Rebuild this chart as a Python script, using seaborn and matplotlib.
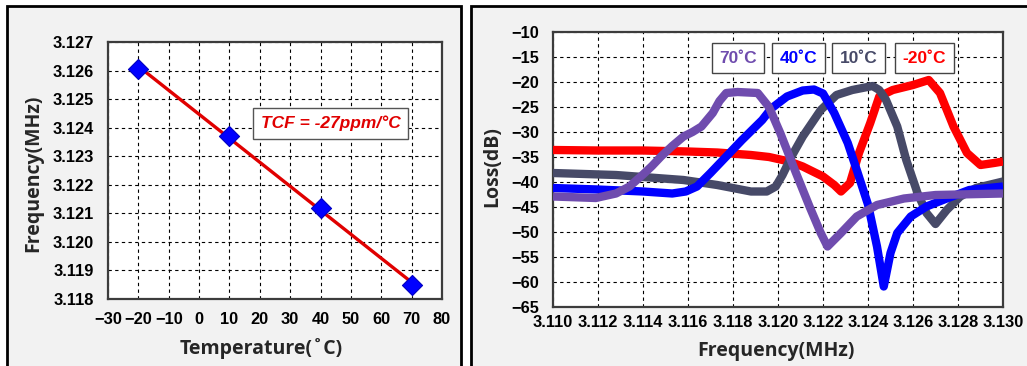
import numpy as np
import pandas as pd
import matplotlib
matplotlib.use("Agg")
import matplotlib.pyplot as plt
import matplotlib.patches as mpatches
from matplotlib.ticker import FormatStrFormatter
import seaborn as sns

# ---------------- data ----------------
temps = [-20, 10, 40, 70]
res_freq = [3.12607, 3.12370, 3.12120, 3.11850]
tcf_label = "TCF = -27ppm/\u00b0C"

freq_r = [3.110, 3.112, 3.114, 3.116, 3.1173, 3.1188, 3.1196, 3.1205, 3.1211, 3.1220, 3.1225,
          3.1228, 3.1232, 3.1236, 3.1241, 3.1245, 3.1251, 3.1260, 3.1267, 3.1272, 3.1278,
          3.1284, 3.1290, 3.1296, 3.1300]
loss_r = [-33.6, -33.7, -33.7, -33.9, -34.1, -34.6, -35.0, -35.9, -36.9, -38.9, -40.6,
          -41.9, -40.2, -34.2, -28.2, -22.9, -21.6, -20.6, -19.6, -22.2, -28.9,
          -34.2, -36.6, -36.2, -35.9]

freq_b = [3.110, 3.112, 3.114, 3.1153, 3.1159, 3.1164, 3.1170, 3.1177, 3.1184, 3.1193, 3.1197,
          3.1204, 3.1211, 3.1216, 3.1220, 3.1225, 3.1231, 3.1235, 3.1240, 3.1244, 3.1247,
          3.1250, 3.1253, 3.1259, 3.1266, 3.1275, 3.1285, 3.1300]
loss_b = [-41.2, -41.5, -41.9, -42.3, -41.9, -40.9, -38.2, -34.9, -31.6, -27.6, -25.3,
          -22.9, -21.7, -21.5, -22.3, -26.2, -32.2, -37.6, -44.5, -52.9, -60.9,
          -54.2, -50.2, -46.9, -44.9, -43.3, -41.6, -40.9]

freq_g = [3.110, 3.1128, 3.1158, 3.1173, 3.1188, 3.1195, 3.1199, 3.1202, 3.1206, 3.1211,
          3.1219, 3.1226, 3.1233, 3.1242, 3.1245, 3.1248, 3.1253, 3.1257, 3.1262, 3.1266,
          3.1270, 3.1275, 3.1281, 3.1288, 3.1300]
loss_g = [-38.2, -38.6, -39.6, -40.6, -41.9, -41.9, -40.9, -38.6, -34.9, -30.9,
          -25.6, -22.6, -21.6, -20.8, -21.6, -23.6, -28.9, -35.6, -42.2, -46.2,
          -48.4, -45.6, -42.9, -41.2, -39.9]

freq_p = [3.110, 3.1119, 3.1128, 3.1134, 3.1140, 3.1144, 3.1148, 3.1153, 3.1158, 3.1162,
          3.1166, 3.1171, 3.1174, 3.1177, 3.1182, 3.1191, 3.1196, 3.1201, 3.1208, 3.1214,
          3.1219, 3.1222, 3.1228, 3.1235, 3.1244, 3.1256, 3.1270, 3.1300]
loss_p = [-42.9, -43.2, -42.3, -40.9, -38.5, -36.8, -34.9, -32.8, -30.9, -30.0,
          -28.9, -26.2, -23.8, -22.2, -22.0, -22.2, -25.0, -30.2, -38.2, -44.9,
          -50.2, -52.9, -50.2, -46.9, -44.6, -43.3, -42.6, -42.3]

series_labels = ["70\u02daC", "40\u02daC", "10\u02daC", "-20\u02daC"]
series_colors = ["#6f4cae", "#0000ff", "#474a68", "#ff0000"]
legend_x = [3.11822, 3.12091, 3.12358, 3.12651]

x_ticks_left = list(range(-30, 81, 10))
y_ticks_left = [3.118, 3.119, 3.120, 3.121, 3.122, 3.123, 3.124, 3.125, 3.126, 3.127]
x_ticks_right = [3.110, 3.112, 3.114, 3.116, 3.118, 3.120, 3.122, 3.124, 3.126, 3.128, 3.130]
y_ticks_right = list(range(-65, -9, 5))

# ---------------- style ----------------
sns.set_style("white")
plt.rcParams['font.family'] = ['Liberation Sans', 'DejaVu Sans']
label_font = dict(family=['Open Sans', 'DejaVu Sans'], weight='bold', size=14)
TICK_FS = 11.8

W, H = 1027, 366
fig = plt.figure(figsize=(W / 100, H / 100), dpi=100)
fig.patch.set_facecolor("white")

def fx(px):
    return px / W

def fy(py):
    return 1 - py / H

# panel frames (behind the axes)
fig.patches.append(mpatches.Rectangle((fx(7), fy(372)), fx(461 - 7), (372 - 6) / H,
                                      transform=fig.transFigure, facecolor="#f2f2f2",
                                      edgecolor="black", linewidth=2, zorder=-5))
fig.patches.append(mpatches.Rectangle((fx(471), fy(372)), fx(1040 - 471), (372 - 6) / H,
                                      transform=fig.transFigure, facecolor="#f2f2f2",
                                      edgecolor="black", linewidth=2, zorder=-5))

def style_axes(ax):
    ax.set_facecolor("white")
    for s in ax.spines.values():
        s.set_visible(True)
        s.set_color("#3c3c3c")
        s.set_linewidth(1.6)
    ax.grid(True, color="black", linestyle=(0, (3, 3)), linewidth=0.8)
    ax.set_axisbelow(True)
    for lab in ax.get_xticklabels() + ax.get_yticklabels():
        lab.set_fontweight("bold")
        lab.set_fontsize(TICK_FS)

# ---------------- left panel ----------------
ax1 = fig.add_axes([fx(108), fy(299), fx(442 - 108), (299 - 42) / H])
coef = np.polyfit(temps, res_freq, 1)
fit_df = pd.DataFrame({"T": [temps[0], temps[-1]],
                       "F": np.polyval(coef, [temps[0], temps[-1]])})
pts_df = pd.DataFrame({"T": temps, "F": res_freq})
sns.lineplot(data=fit_df, x="T", y="F", ax=ax1, color="#e00000", linewidth=2.4, zorder=3)
sns.scatterplot(data=pts_df, x="T", y="F", ax=ax1, marker="D", s=105, color="#0000ff",
                edgecolor="#0000c0", linewidth=0.8, zorder=4)
ax1.set_xlim(-30, 80)
ax1.set_ylim(3.118, 3.127)
ax1.set_xticks(x_ticks_left)
ax1.set_yticks(y_ticks_left)
ax1.yaxis.set_major_formatter(FormatStrFormatter("%.3f"))
ax1.tick_params(axis="both", length=0, labelsize=TICK_FS, colors="black")
ax1.tick_params(axis="y", pad=10)
ax1.tick_params(axis="x", pad=9)
style_axes(ax1)
ax1.set_xlabel("Temperature(\u02daC)", **label_font)
ax1.set_ylabel("Frequency(MHz)", **label_font)
ax1.xaxis.set_label_coords(0.458, -0.15)
ax1.yaxis.set_label_coords(-0.195, 0.49)
ax1.text(43.3, 3.12416, tcf_label, color="#e00000", fontsize=12.5, fontweight="bold",
         fontstyle="italic", ha="center", va="center", zorder=5,
         bbox=dict(boxstyle="square,pad=0.45", facecolor="white", edgecolor="#555555",
                   linewidth=1.0))

# ---------------- right panel ----------------
ax2 = fig.add_axes([fx(553), fy(307), fx(1003 - 553), (307 - 32) / H])
curves = [(freq_p, loss_p), (freq_b, loss_b), (freq_g, loss_g), (freq_r, loss_r)]
for i in [3, 2, 1, 0]:
    f, l = curves[i]
    df = pd.DataFrame({"f": f, "loss": l})
    sns.lineplot(data=df, x="f", y="loss", ax=ax2, color=series_colors[i], linewidth=6.0,
                 solid_joinstyle="round", solid_capstyle="butt", zorder=3)
ax2.set_xlim(3.110, 3.130)
ax2.set_ylim(-65, -10)
ax2.set_xticks(x_ticks_right)
ax2.set_yticks(y_ticks_right)
ax2.xaxis.set_major_formatter(FormatStrFormatter("%.3f"))
ax2.tick_params(axis="both", length=0, labelsize=TICK_FS, colors="black")
ax2.tick_params(axis="y", pad=10)
ax2.tick_params(axis="x", pad=6)
style_axes(ax2)
ax2.set_xlabel("Frequency(MHz)", **label_font)
ax2.set_ylabel("Loss(dB)", **label_font)
ax2.xaxis.set_label_coords(0.496, -0.125)
ax2.yaxis.set_label_coords(-0.113, 0.51)
for lab, col, x in zip(series_labels, series_colors, legend_x):
    ax2.text(x, -15.2, lab, color=col, fontsize=12.5, fontweight="bold", ha="center",
             va="center", zorder=6,
             bbox=dict(boxstyle="square,pad=0.42", facecolor="white", edgecolor="#444444",
                       linewidth=1.0))

fig.savefig("out.png", dpi=100, facecolor=fig.get_facecolor())
